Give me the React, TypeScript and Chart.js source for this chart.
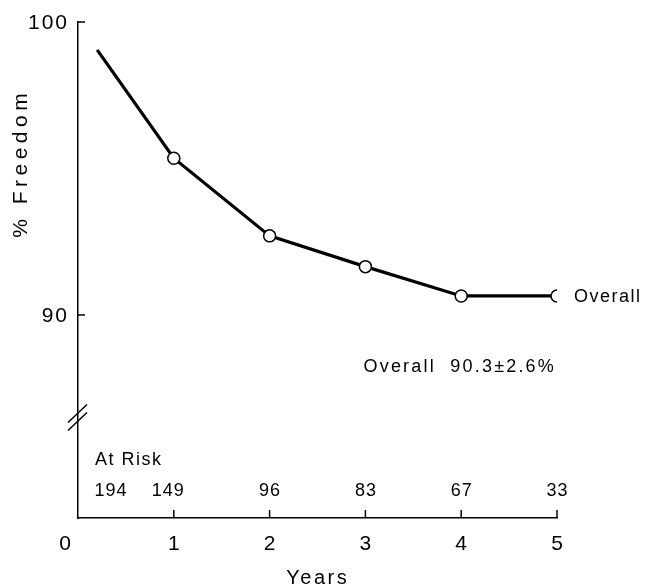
import React, { useEffect, useRef } from "react";
import { Chart, registerables } from "chart.js";

Chart.register(...registerables);

const years = [0.2, 1, 2, 3, 4, 5];
const freedom = [99.05, 95.35, 92.7, 91.65, 90.65, 90.65];
const markerRadius = [0, 6, 6, 6, 6, 6];
const atRiskYears = [0, 1, 2, 3, 4, 5];
const atRiskCounts = [194, 149, 96, 83, 67, 33];
const yTickValues = [90, 100];
const xTickValues = [0, 1, 2, 3, 4, 5];
const yMin = 83.07;
const yMax = 100;
const breakValue = 86.5;

const FONT = "'Liberation Sans', Arial, Helvetica, sans-serif";

function txt(ctx: any, s: string, x: number, y: number, size: number, spacing: number, align: string) {
  ctx.font = `${size}px ${FONT}`;
  (ctx as any).letterSpacing = `${spacing}px`;
  ctx.textBaseline = "middle";
  const w = ctx.measureText(s).width - spacing;
  let sx = x;
  if (align === "center") sx = x - w / 2;
  else if (align === "right") sx = x - w;
  ctx.textAlign = "left";
  ctx.fillText(s, sx, y);
}

const overlay = {
  id: "overlay",
  afterDraw(chart: any) {
    const ctx = chart.ctx;
    const xs = chart.scales.x;
    const ys = chart.scales.y;
    const left = xs.left;
    const bottom = ys.bottom;
    ctx.save();
    ctx.strokeStyle = "#000";
    ctx.fillStyle = "#000";
    ctx.lineWidth = 1.5;
    // inward y ticks + labels
    yTickValues.forEach((v) => {
      const py = ys.getPixelForValue(v);
      ctx.beginPath();
      ctx.moveTo(left, py);
      ctx.lineTo(left + 7, py);
      ctx.stroke();
      txt(ctx, String(v), left - 11, py + 1, 21, 2, "right");
    });
    // inward x ticks + labels
    xTickValues.forEach((v) => {
      const px = xs.getPixelForValue(v);
      if (v === 0) {
        txt(ctx, "0", px - 13, bottom + 26, 21, 0, "center");
        return;
      }
      ctx.beginPath();
      ctx.moveTo(px, bottom);
      ctx.lineTo(px, bottom - 8);
      ctx.stroke();
      txt(ctx, String(v), px, bottom + 26, 21, 0, "center");
    });
    // axis break
    const by = ys.getPixelForValue(breakValue);
    ctx.lineWidth = 1.5;
    [-4, 4].forEach((d) => {
      ctx.beginPath();
      ctx.moveTo(left - 10, by + 9 + d);
      ctx.lineTo(left + 9, by - 9 + d);
      ctx.stroke();
    });
    // Years title
    txt(ctx, "Years", xs.getPixelForValue(2.49), bottom + 60, 20, 2.5, "center");
    // y title
    ctx.save();
    ctx.translate(21, ys.getPixelForValue(95.1));
    ctx.rotate(-Math.PI / 2);
    txt(ctx, "% Freedom", 0, 0, 21, 4.5, "center");
    ctx.restore();
    // At risk
    txt(ctx, "At Risk", left + 17, bottom - 58, 18, 1.5, "left");
    atRiskYears.forEach((yr, i) => {
      let px = xs.getPixelForValue(yr);
      if (i === 0) px = xs.getPixelForValue(0.34);
      if (i === 1) px -= 6;
      txt(ctx, String(atRiskCounts[i]), px, bottom - 27, 18, 1, "center");
    });
    // Overall labels
    const last = freedom.length - 1;
    txt(ctx, "Overall", xs.getPixelForValue(years[last]) + 17, ys.getPixelForValue(freedom[last]) + 1, 18, 1.5, "left");
    txt(ctx, "Overall  90.3\u00b12.6%", xs.getPixelForValue(2.98), ys.getPixelForValue(88.22), 18, 2.2, "left");
    ctx.restore();
  },
};

export default function App() {
  const ref = useRef<HTMLCanvasElement>(null);
  useEffect(() => {
    if (!ref.current) return;
    const chart = new Chart(ref.current, {
      type: "line",
      data: {
        datasets: [
          {
            data: years.map((x, i) => ({ x, y: freedom[i] })),
            borderColor: "#000",
            borderWidth: 3.2,
            pointRadius: markerRadius,
            pointBackgroundColor: "#fff",
            pointBorderColor: "#000",
            pointBorderWidth: 1.5,
            tension: 0,
          },
        ],
      },
      options: {
        animation: false,
        responsive: true,
        maintainAspectRatio: false,
        layout: { padding: { left: 0, top: 22, right: 88, bottom: 0 } },
        plugins: { legend: { display: false }, tooltip: { enabled: false } },
        scales: {
          x: {
            type: "linear",
            min: 0,
            max: 5,
            afterBuildTicks: (s: any) => {
              s.ticks = xTickValues.map((value) => ({ value }));
            },
            afterFit: (s: any) => {
              s.height = 69;
            },
            ticks: { display: false },
            grid: { display: false, drawTicks: false },
            border: { display: true, color: "#000", width: 1.5 },
          },
          y: {
            type: "linear",
            min: yMin,
            max: yMax,
            afterBuildTicks: (s: any) => {
              s.ticks = yTickValues.map((value) => ({ value }));
            },
            afterFit: (s: any) => {
              s.width = 78;
            },
            ticks: { display: false },
            grid: { display: false, drawTicks: false },
            border: { display: true, color: "#000", width: 1.5 },
          },
        },
      },
      plugins: [overlay],
    });
    return () => chart.destroy();
  }, []);
  return (
    <div style={{ position: "fixed", left: 0, top: 0, width: 645, height: 587, background: "#fff" }}>
      <canvas ref={ref} style={{ display: "block" }} />
    </div>
  );
}
